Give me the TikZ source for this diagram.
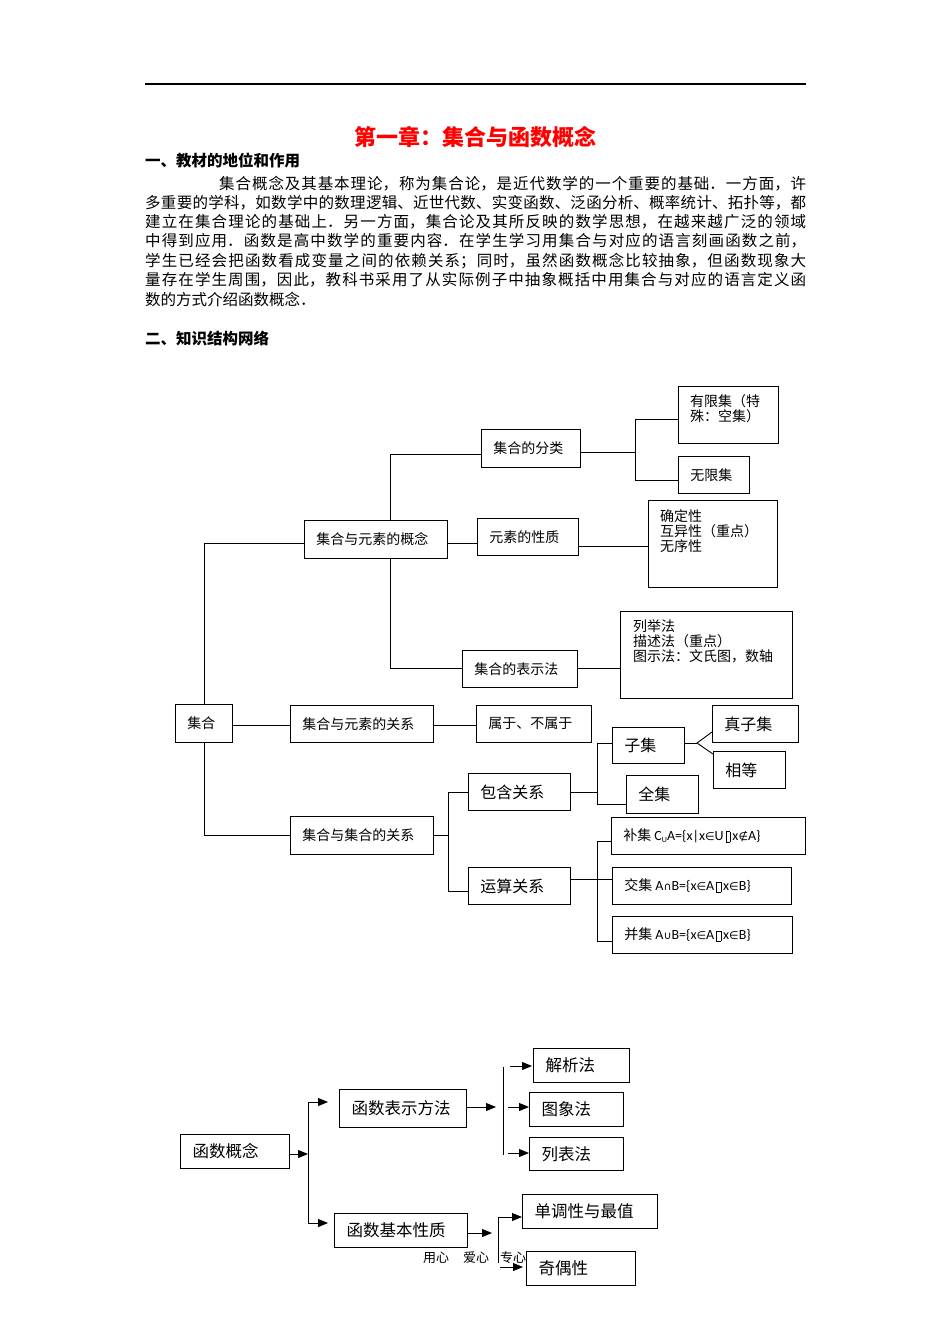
\documentclass[tikz,border=0pt]{standalone}
\usepackage{fontspec}
\setmainfont{Noto Sans CJK SC}
\newfontfamily\lat{Carlito}
\newfontfamily\symf{DejaVu Sans}
\usetikzlibrary{arrows.meta,calc}
\XeTeXlinebreaklocale "zh"
\XeTeXlinebreakskip=0pt
\newcommand\jline[2]{\parbox{#1}{\XeTeXlinebreakskip=0pt plus 1fil\tolerance=10000\noindent\parfillskip=0pt #2\par}}
\newcommand\gapbox{\hspace{2pt}{\setlength\fboxsep{0pt}\setlength\fboxrule{0.4pt}\raisebox{-1pt}{\fbox{\rule{0pt}{10pt}\hspace{4pt}}}}\hspace{2pt}}
\newcommand\sy[1]{{\symf\fontsize{11}{11}\selectfont #1}}
\newcommand\bx[7][]{\pgfmathsetmacro\bxw{#5-#3}\pgfmathsetmacro\bxh{#6-#4}\pgfmathsetmacro\bxt{#5-#3-24}%
  \node[box,minimum width=\bxw pt,minimum height=\bxh pt,text width=\bxt pt,#1] (#2) at (#3,#4) {#7};}
\tikzset{
  box/.style={draw=black, line width=0.9pt, anchor=north west, inner xsep=12pt, inner ysep=0pt, align=left, font=\fontsize{14}{15}\selectfont},
  big/.style={font=\fontsize{16}{17}\selectfont},
  fbox2/.style={line width=1pt, font=\fontsize{16.5}{17}\selectfont},
  txt/.style={inner sep=0pt, anchor=north west, align=left, font=\fontsize{14}{15}\selectfont},
  conn/.style={draw=black, line width=0.9pt},
  arr/.style={draw=black, line width=0.9pt, -{Triangle[length=10pt,width=8pt]}},
  para/.style={inner sep=0pt, anchor=west, font=\fontsize{15.5}{19}\selectfont},
  head/.style={inner sep=0pt, anchor=west, font=\fontsize{15.5}{19}\selectfont\bfseries},
}
\begin{document}
\begin{tikzpicture}[x=1pt,y=-1pt]
\fill[white] (0,0) rectangle (950,1344);
\useasboundingbox (0,0) rectangle (950,1344);

% header rule
\coordinate (r1) at (145,84);
\coordinate (r2) at (806,84);
\draw[line width=1.3pt] (r1) -- (r2);

% title and headings
\node[inner sep=0pt, text=red, font=\fontsize{22}{24}\selectfont\bfseries] (title) at (475,137) {第一章：集合与函数概念};
\node[head] (h1) at (145,161) {一、教材的地位和作用};
\node[para] (p1) at (219,184) {\jline{587pt}{集合概念及其基本理论，称为集合论，是近代数学的一个重要的基础．一方面，许}};
\node[para] (p2) at (145,203) {\jline{661pt}{多重要的学科，如数学中的数理逻辑、近世代数、实变函数、泛函分析、概率统计、拓扑等，都}};
\node[para] (p3) at (145,222) {\jline{661pt}{建立在集合理论的基础上．另一方面，集合论及其所反映的数学思想，在越来越广泛的领域}};
\node[para] (p4) at (145,241) {\jline{661pt}{中得到应用．函数是高中数学的重要内容．在学生学习用集合与对应的语言刻画函数之前，}};
\node[para] (p5) at (145,261) {\jline{661pt}{学生已经会把函数看成变量之间的依赖关系；同时，虽然函数概念比较抽象，但函数现象大}};
\node[para] (p6) at (145,280) {\jline{661pt}{量存在学生周围，因此，教科书采用了从实际例子中抽象概括中用集合与对应的语言定义函}};
\node[para] (p7) at (145,299) {数的方式介绍函数概念．};
\node[head] (h2) at (145,339) {二、知识结构网络};

% ---------- diagram 1 ----------
\bx{yx}{678}{386}{778}{443}{}
\node[txt] (yxt) at ($(yx.north west)+(12,8)$) {有限集（特\\殊：空集）};
\bx{fl}{481}{429}{580}{467}{集合的分类}
\bx{wx}{678}{456}{749}{493}{无限集}
\bx{gn}{304}{520}{447}{558}{集合与元素的概念}
\bx{xz}{477}{518}{578}{555}{元素的性质}
\bx{qd}{648}{500}{777}{587}{}
\node[txt] (qdt) at ($(qd.north west)+(12,9)$) {确定性\\互异性（重点）\\无序性};
\bx{bs}{462}{650}{577}{687}{集合的表示法}
\bx{lj}{620}{611}{792}{698}{}
\node[txt] (ljt) at ($(lj.north west)+(13,8)$) {列举法\\描述法（重点）\\图示法：文氏图，数轴};
\bx{jh}{175}{704}{232}{742}{集合}
\bx{gx}{290}{705}{433}{742}{集合与元素的关系}
\bx{sy}{476}{705}{591}{742}{属于、不属于}
\bx[big]{zzj}{712}{705}{798}{742}{真子集}
\bx[big]{zj}{612}{727}{684}{763}{子集}
\bx[big]{xd}{713}{751}{785}{788}{相等}
\bx[big]{bh}{468}{773}{570}{810}{包含关系}
\bx[big]{qj}{626}{775}{698}{813}{全集}
\bx{jj}{290}{816}{433}{854}{集合与集合的关系}
\bx{bu}{611}{817}{805}{854}{补集\hspace{3pt}{\lat C\raisebox{-1.5pt}{\fontsize{8}{8}\selectfont U}A=\{x|x}\sy{∈}{\lat U}\gapbox{\lat x}\sy{∉}{\lat A\}}}
\bx[big]{ys}{468}{867}{570}{904}{运算关系}
\bx{jiao}{612}{867}{791}{904}{交集\hspace{3pt}{\lat A}\sy{∩}{\lat B=\{x}\sy{∈}{\lat A}\gapbox{\lat x}\sy{∈}{\lat B\}}}
\bx{bing}{612}{916}{792}{953}{并集\hspace{3pt}{\lat A}\sy{∪}{\lat B=\{x}\sy{∈}{\lat A}\gapbox{\lat x}\sy{∈}{\lat B\}}}

% connectors diagram 1
\coordinate (fk) at (635,452);
\draw[conn] (fl.east |- fk) -- (fk);
\draw[conn] (yx.west |- 0,419) -| (fk |- 0,480) -- (wx.west |- 0,480);
\draw[conn] (gn.north -| 390,0) |- (fl.west |- 0,454);
\draw[conn] (gn.south -| 390,0) |- (bs.west |- 0,668);
\draw[conn] (gn.east |- 0,543) -- (xz.west |- 0,543);
\draw[conn] (xz.east |- 0,546) -- (qd.west |- 0,546);
\draw[conn] (bs.east |- 0,668) -- (lj.west |- 0,668);
\draw[conn] (jh.north -| 204,0) |- (gn.west |- 0,543);
\draw[conn] (jh.south -| 204,0) |- (jj.west |- 0,835);
\draw[conn] (jh.east |- 0,725) -- (gx.west |- 0,725);
\draw[conn] (gx.east |- 0,725) -- (sy.west |- 0,725);
\coordinate (jf) at (448,835);
\draw[conn] (jj.east |- jf) -- (jf);
\draw[conn] (bh.west |- 0,792) -| (jf |- 0,891) -- (ys.west |- 0,891);
\coordinate (bf) at (597,792);
\draw[conn] (bh.east |- bf) -- (bf);
\draw[conn] (zj.west |- 0,743) -| (bf |- 0,804) -- (qj.west |- 0,804);
\coordinate (zf) at (697,743);
\draw[conn] (zj.east |- zf) -- (zf);
\draw[conn] (zzj.west |- 0,732) -- (zf) -- (xd.west |- 0,754);
\coordinate (yf) at (597,879);
\draw[conn] (ys.east |- yf) -- (jiao.west |- yf);
\draw[conn] (bu.west |- 0,841) -| (yf |- 0,941) -- (bing.west |- 0,941);

% ---------- diagram 2 ----------
\bx[fbox2]{gs}{180}{1134}{289}{1168}{函数概念}
\bx[fbox2]{bf1}{339}{1089}{466}{1127}{函数表示方法}
\bx[fbox2]{jx}{533}{1048}{629}{1082}{解析法}
\bx[fbox2]{tx}{529}{1092}{623}{1126}{图象法}
\bx[fbox2]{lb}{529}{1137}{623}{1170}{列表法}
\bx[fbox2]{bp}{334}{1213}{467}{1247}{函数基本性质}
\bx[fbox2]{dd}{522}{1194}{657}{1228}{单调性与最值}
\bx[fbox2]{jo}{526}{1251}{635}{1285}{奇偶性}

\coordinate (v1a) at (308,1102);
\coordinate (v1b) at (308,1223);
\draw[conn] (v1a) -- (v1b);
\draw[arr] (gs.east |- 0,1154) -- (v1a |- 0,1154);
\draw[arr,shorten >=11pt] (v1a) -- (bf1.west |- v1a);
\draw[arr,shorten >=6pt] (v1b) -- (bp.west |- v1b);

\coordinate (v2a) at (503,1067);
\coordinate (v2b) at (503,1155);
\draw[conn] (v2a) -- (v2b);
\draw[arr,shorten >=7pt] (bf1.east |- 0,1107) -- (v2a |- 0,1107);
\draw[arr,shorten <=7pt,shorten >=1pt] (v2a |- 0,1066) -- (jx.west |- 0,1066);
\draw[arr,shorten <=5pt] (v2a |- 0,1107) -- (tx.west |- 0,1107);
\draw[arr,shorten <=5pt] (v2a |- 0,1153) -- (lb.west |- 0,1153);

\coordinate (v3a) at (498,1217);
\coordinate (v3b) at (498,1263);
\draw[conn] (v3a) -- (v3b);
\draw[arr,shorten >=6pt] (bp.east |- 0,1233) -- (v3a |- 0,1233);
\draw[arr] (v3a) -- (dd.west |- v3a);
\draw[arr,shorten <=2pt,shorten >=3pt] (v3a |- 0,1267) -- (jo.west |- 0,1267);

\node[inner sep=0pt, anchor=west, font=\fontsize{13}{13}\selectfont] (yx1) at (423,1258) {用心\hspace{14pt}爱心};
\node[inner sep=0pt, anchor=west, font=\fontsize{13}{13}\selectfont] (zx1) at (500,1258) {专心};
\end{tikzpicture}
\end{document}
